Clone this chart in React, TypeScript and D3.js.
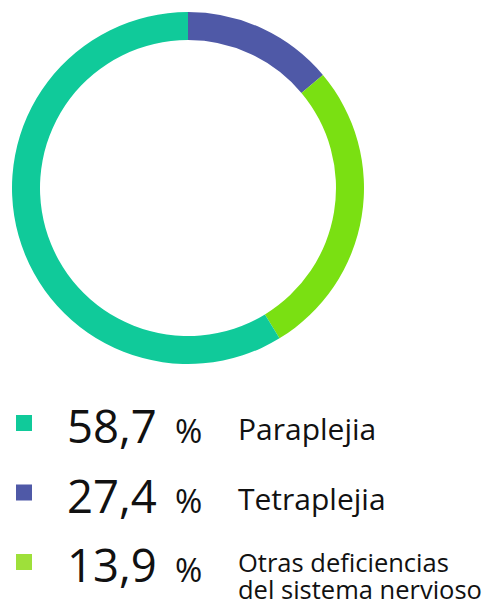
import React from "react";
import * as d3 from "d3";

const width = 483;
const height = 604;

// slices, clockwise from 12 o'clock, as drawn in the ring
const ringValues = [13.9, 27.4, 58.7];
const ringColors = ["#4f59a7", "#7ae012", "#10ca9a"];

// legend rows
const legendValues = ["58,7", "27,4", "13,9"];
const legendLabels = [["Paraplejia"], ["Tetraplejia"], ["Otras deficiencias", "del sistema nervioso"]];
const legendColors = ["#10ca9a", "#4f59a7", "#9ee03a"];

const font = "'Open Sans', sans-serif";

const App = () => {
  const cx = 188;
  const cy = 188;
  const outer = 176;
  const inner = 148;

  const pie = d3.pie<number>().sort(null).value(d => d);
  const arcs = pie(ringValues);
  const arcGen = d3.arc<d3.PieArcDatum<number>>().innerRadius(inner).outerRadius(outer);

  const rowY = d3.scalePoint<number>().domain([0, 1, 2]).range([443, 582]);

  return (
    <svg width={width} height={height} style={{ position: "absolute", left: 0, top: 0 }}>
      <g transform={`translate(${cx},${cy})`}>
        {arcs.map((a, i) => (
          <path key={i} d={arcGen(a) || ""} fill={ringColors[i]} />
        ))}
      </g>
      {legendValues.map((v, i) => {
        const y = rowY(i) as number;
        const multi = legendLabels[i].length > 1;
        return (
          <g key={i} fontFamily={font} fill="#111">
            <rect x={16} y={y - 28} width={16} height={16} fill={legendColors[i]} />
            <text x={67} y={y} fontSize={45.5}>{v}</text>
            <text x={175} y={y} fontSize={33}>%</text>
            {legendLabels[i].map((l, j) => (
              <text key={j} x={238} y={y - (multi ? 10 : 3) + j * 27} fontSize={multi ? 25.5 : 30}>
                {l}
              </text>
            ))}
          </g>
        );
      })}
    </svg>
  );
};

export default App;
